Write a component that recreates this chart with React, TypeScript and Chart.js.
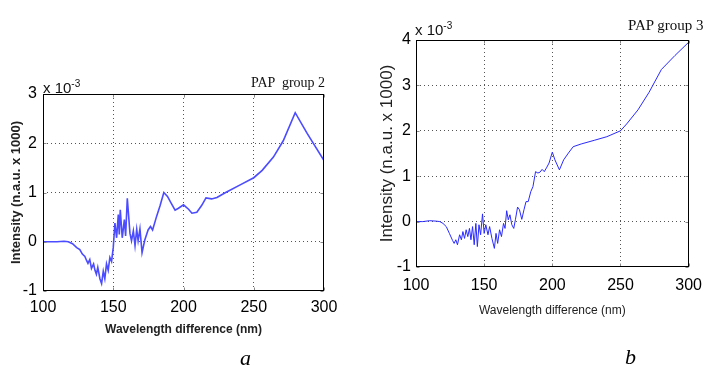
import React, { useEffect, useRef } from "react";
import { Chart, registerables } from "chart.js";
Chart.register(...registerables);

// ---- data ----
const xTickValues = [100, 150, 200, 250, 300];

const wavelengthA = [100, 105, 110, 115, 118, 121, 124, 126.2, 128, 129.8, 131, 132, 133.3, 134.5, 136, 137, 138, 139, 140.5, 141.7, 142.9, 144, 145.2, 146.4, 147.6, 148.8, 150, 151.2, 152.4, 153.6, 154.3, 155, 156.4, 157.9, 158.8, 160, 161.9, 163, 164.3, 165.5, 166.7, 167.7, 169, 170.5, 172.4, 174.8, 176.5, 178, 180.9, 183.3, 186, 188.6, 190.9, 194, 196.4, 200, 203.6, 206, 209.5, 213, 216, 220, 223.8, 230, 240, 250, 256, 264, 271, 279.5, 288, 300];
const intensityA = [0, 0, 0, 0.01, 0, -0.04, -0.12, -0.16, -0.25, -0.3, -0.38, -0.44, -0.36, -0.54, -0.45, -0.58, -0.66, -0.52, -0.75, -0.85, -0.6, -0.75, -0.45, -0.58, -0.32, -0.4, -0.12, 0.38, 0.08, 0.55, 0.15, 0.65, 0.08, 0.45, 0.12, 0.88, 0.17, 0.02, 0.22, -0.08, 0.25, 0.02, 0.26, -0.22, 0.03, 0.24, 0.31, 0.24, 0.52, 0.73, 1.0, 0.92, 0.8, 0.64, 0.68, 0.75, 0.66, 0.58, 0.6, 0.74, 0.89, 0.87, 0.9, 1.0, 1.15, 1.3, 1.45, 1.72, 2.05, 2.62, 2.2, 1.65];

const wavelengthB = [100, 105, 110, 115, 117.5, 119.8, 122.2, 124.5, 126.9, 128, 129.2, 130.4, 132, 133.3, 134.4, 135.6, 136.8, 138, 139.2, 140.3, 141.5, 142.7, 143.9, 145, 146.2, 147.4, 148.8, 150, 151.2, 152.8, 154, 155.7, 157.5, 158.7, 159.9, 161.3, 162.7, 164.2, 165.3, 166.5, 167.7, 168.9, 170.3, 171.7, 172.9, 174.5, 175.9, 177.6, 179.2, 180.7, 182.3, 184.2, 185.8, 187.7, 189.4, 191, 192.5, 194.1, 196, 197.6, 200, 201.9, 205.2, 208.3, 211.8, 215.3, 221.2, 230.7, 240, 250, 254.5, 262.8, 271, 280, 290, 300];
const intensityB = [0, 0, 0.02, 0.01, 0, -0.04, -0.11, -0.26, -0.42, -0.48, -0.4, -0.51, -0.29, -0.4, -0.22, -0.37, -0.18, -0.33, -0.15, -0.4, -0.11, -0.51, -0.04, -0.55, -0.07, -0.29, 0.17, -0.26, -0.07, -0.29, -0.11, -0.37, -0.59, -0.26, -0.48, -0.18, -0.33, -0.04, -0.15, 0.24, 0.04, 0.15, -0.07, -0.15, 0.04, 0.32, 0.26, 0.05, 0.26, 0.44, 0.44, 0.66, 0.77, 1.1, 1.07, 1.09, 1.15, 1.1, 1.2, 1.29, 1.53, 1.36, 1.14, 1.36, 1.51, 1.65, 1.71, 1.79, 1.87, 2.0, 2.15, 2.46, 2.85, 3.35, 3.66, 3.95];

const yRangeA = [-1, 3];
const yRangeB = [-1, 4];

const SANS = "'Liberation Sans Narrow', 'Arial Narrow', 'Liberation Sans', Arial, sans-serif";
const SERIF = "'Liberation Serif', 'Times New Roman', serif";

const boxPlugin = {
  id: "matlabBox",
  afterDraw(chart: any) {
    const { ctx, chartArea } = chart;
    const l = Math.round(chartArea.left) + 0.5;
    const r = Math.round(chartArea.right) - 0.5;
    const t = Math.round(chartArea.top) + 0.5;
    const b = Math.round(chartArea.bottom) - 0.5;
    ctx.save();
    ctx.strokeStyle = "#888";
    ctx.lineWidth = 1;
    const xs = chart.scales.x;
    const ys = chart.scales.y;
    ctx.beginPath();
    xs.ticks.forEach((tk: any) => {
      const px = Math.round(xs.getPixelForValue(tk.value)) + 0.5;
      ctx.moveTo(px, b); ctx.lineTo(px, b - 3);
      ctx.moveTo(px, t); ctx.lineTo(px, t + 3);
    });
    ys.ticks.forEach((tk: any) => {
      const py = Math.round(ys.getPixelForValue(tk.value)) + 0.5;
      ctx.moveTo(l, py); ctx.lineTo(l + 3, py);
      ctx.moveTo(r, py); ctx.lineTo(r - 3, py);
    });
    ctx.stroke();
    ctx.strokeStyle = "#000";
    ctx.strokeRect(l, t, r - l, b - t);
    ctx.restore();
  },
};

type Spec = {
  xs: number[];
  ys: number[];
  yRange: number[];
  color: string;
  lineWidth: number;
  pad: { left: number; top: number; right: number; bottom: number };
  yAxisWidth: number;
  xAxisHeight: number;
  tickSize: number;
  yTickPad: number;
  xTickPad: number;
  yTitleSize: number;
  yTitleWeight: string;
  yTitlePad: number;
  xTitleSize: number;
  xTitleWeight: string;
  xTitlePad: number;
};

function makeChart(canvas: HTMLCanvasElement, s: Spec) {
  const gridColor = (ctx: any) => {
    const n = ctx.scale ? ctx.scale.ticks.length : 0;
    return ctx.index === 0 || ctx.index === n - 1 ? "rgba(0,0,0,0)" : "#555";
  };
  return new Chart(canvas, {
    type: "line",
    data: {
      datasets: [
        {
          data: s.xs.map((x, i) => ({ x, y: s.ys[i] })),
          borderColor: s.color,
          borderWidth: s.lineWidth,
          pointRadius: 0,
          tension: 0,
          fill: false,
        },
      ],
    },
    options: {
      animation: false,
      responsive: false,
      devicePixelRatio: 1,
      layout: { padding: s.pad },
      plugins: { legend: { display: false }, tooltip: { enabled: false } },
      scales: {
        x: {
          type: "linear",
          min: xTickValues[0],
          max: xTickValues[xTickValues.length - 1],
          afterBuildTicks: (sc: any) => {
            sc.ticks = xTickValues.map((v) => ({ value: v }));
          },
          afterFit: (sc: any) => {
            sc.height = s.xAxisHeight;
          },
          grid: { color: gridColor, drawTicks: false, lineWidth: 1 },
          border: { display: false, dash: [1, 3] },
          ticks: {
            color: "#000",
            padding: s.xTickPad,
            maxRotation: 0,
            font: { family: SANS, size: s.tickSize },
          },
          title: {
            display: true,
            text: "Wavelength difference (nm)",
            color: "#222",
            font: { family: SANS, size: s.xTitleSize, weight: s.xTitleWeight as any },
            padding: { top: 0, bottom: s.xTitlePad },
          },
        },
        y: {
          type: "linear",
          min: s.yRange[0],
          max: s.yRange[1],
          ticks: {
            stepSize: 1,
            color: "#000",
            padding: s.yTickPad,
            font: { family: SANS, size: s.tickSize },
          },
          afterFit: (sc: any) => {
            sc.width = s.yAxisWidth;
          },
          grid: { color: gridColor, drawTicks: false, lineWidth: 1 },
          border: { display: false, dash: [1, 3] },
          title: {
            display: true,
            text: "Intensity (n.a.u. x 1000)",
            color: "#222",
            font: { family: SANS, size: s.yTitleSize, weight: s.yTitleWeight as any },
            padding: { top: s.yTitlePad, bottom: 0 },
          },
        },
      },
    },
    plugins: [boxPlugin],
  } as any);
}

function Panel(props: { left: number; width: number; spec: Spec }) {
  const ref = useRef<HTMLCanvasElement | null>(null);
  useEffect(() => {
    if (!ref.current) return;
    const c = makeChart(ref.current, props.spec);
    return () => c.destroy();
  }, []);
  return (
    <canvas
      ref={ref}
      width={props.width}
      height={367}
      style={{ position: "absolute", left: props.left, top: 0, width: props.width, height: 367 }}
    />
  );
}

const specA: Spec = {
  xs: wavelengthA,
  ys: intensityA,
  yRange: yRangeA,
  color: "#4b4bff",
  lineWidth: 1.6,
  pad: { left: 0, top: 94, right: 31, bottom: 16 },
  yAxisWidth: 43,
  xAxisHeight: 60,
  tickSize: 16,
  yTickPad: 6,
  xTickPad: 7,
  yTitleSize: 13,
  yTitleWeight: "bold",
  yTitlePad: 9,
  xTitleSize: 12,
  xTitleWeight: "bold",
  xTitlePad: 14,
};

const specB: Spec = {
  xs: wavelengthB,
  ys: intensityB,
  yRange: yRangeB,
  color: "#2a2aff",
  lineWidth: 1,
  pad: { left: 0, top: 40, right: 14, bottom: 40 },
  yAxisWidth: 61,
  xAxisHeight: 60,
  tickSize: 16,
  yTickPad: 5,
  xTickPad: 9,
  yTitleSize: 17,
  yTitleWeight: "normal",
  yTitlePad: 22,
  xTitleSize: 12,
  xTitleWeight: "normal",
  xTitlePad: 9,
};

const abs = (l: number, t: number, extra: any = {}) => ({ position: "absolute" as const, left: l, top: t, whiteSpace: "pre" as const, ...extra });

export default function App() {
  return (
    <div style={{ position: "absolute", left: 0, top: 0, width: 711, height: 367, background: "#fff", overflow: "hidden" }}>
      <Panel left={0} width={355} spec={specA} />
      <Panel left={355} width={356} spec={specB} />
      <div style={abs(43, 76, { fontFamily: SANS, fontSize: 15, lineHeight: "15px", color: "#111" })}>
        x 10<sup style={{ fontSize: 10, verticalAlign: "6px" }}>-3</sup>
      </div>
      <div style={abs(251, 76, { fontFamily: SERIF, fontSize: 14, lineHeight: "14px", color: "#111" })}>PAP  group 2</div>
      <div style={abs(415, 18, { fontFamily: SANS, fontSize: 15, lineHeight: "15px", color: "#111" })}>
        x 10<sup style={{ fontSize: 10, verticalAlign: "6px" }}>-3</sup>
      </div>
      <div style={abs(628, 18, { fontFamily: SERIF, fontSize: 15, lineHeight: "15px", color: "#111" })}>PAP group 3</div>
      <div style={abs(240, 347, { fontFamily: SERIF, fontStyle: "italic", fontSize: 22, lineHeight: "22px", color: "#000" })}>a</div>
      <div style={abs(625, 346, { fontFamily: SERIF, fontStyle: "italic", fontSize: 22, lineHeight: "22px", color: "#000" })}>b</div>
    </div>
  );
}
